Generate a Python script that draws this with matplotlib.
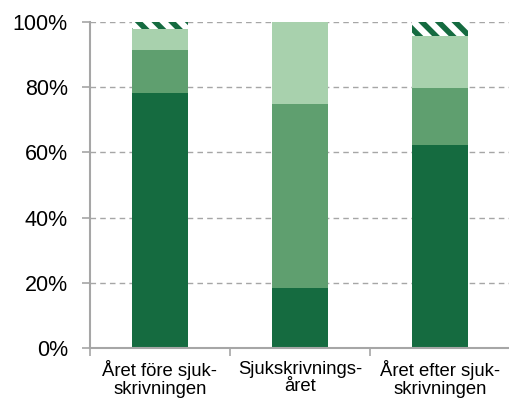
import matplotlib
matplotlib.use("Agg")
import matplotlib.pyplot as plt
from matplotlib.ticker import FixedLocator, PercentFormatter

plt.rcParams['font.family'] = ['Liberation Sans', 'DejaVu Sans']
plt.rcParams['hatch.linewidth'] = 4.0

categories = ["Året före sjuk-\nskrivningen", "Sjukskrivnings-\nåret", "Året efter sjuk-\nskrivningen"]
dark = [78.2, 18.4, 62.3]
mid = [13.2, 56.4, 17.5]
light = [6.5, 25.2, 15.9]
hatched = [2.1, 0.0, 4.3]

c_dark = "#156b40"
c_mid = "#5f9f6f"
c_light = "#a8d1ad"
c_grey = "#a6a6a6"

fig = plt.figure(figsize=(5.09, 4.03), dpi=100)
ax = fig.add_axes([90 / 509, 1 - 348 / 403, 420 / 509, 326 / 403])

x = list(range(len(categories)))
w = 0.4
b1 = dark
b2 = [a + b for a, b in zip(dark, mid)]
b3 = [a + b for a, b in zip(b2, light)]
ax.bar(x, dark, w, color=c_dark, zorder=2)
ax.bar(x, mid, w, bottom=b1, color=c_mid, zorder=2)
ax.bar(x, light, w, bottom=b2, color=c_light, zorder=2)
ax.bar(x, hatched, w, bottom=b3, facecolor="white", edgecolor=c_dark,
       linewidth=0, hatch="\\\\", zorder=2)

ax.set_xlim(-0.5, 2.5)
ax.set_ylim(0, 100)
ax.yaxis.set_major_locator(FixedLocator([0, 20, 40, 60, 80, 100]))
ax.yaxis.set_major_formatter(PercentFormatter(decimals=0))
ax.set_axisbelow(True)
ax.grid(axis="y", color=c_grey, linestyle=(0, (4, 3)), linewidth=1.0, zorder=0)

ax.set_xticks(x)
ax.set_xticklabels(categories, fontsize=13.3, linespacing=1.05)
ax.set_xticks([-0.5, 0.5, 1.5, 2.5], minor=True)
ax.tick_params(axis="x", which="major", length=0, pad=9)
ax.tick_params(axis="x", which="minor", length=6, width=1.2, color=c_grey)
ax.tick_params(axis="y", length=6, width=1.2, color=c_grey, labelsize=15.5, pad=10)

for s in ("top", "right"):
    ax.spines[s].set_visible(False)
for s in ("left", "bottom"):
    ax.spines[s].set_color(c_grey)
    ax.spines[s].set_linewidth(1.5)

fig.savefig("out.png", dpi=100)
